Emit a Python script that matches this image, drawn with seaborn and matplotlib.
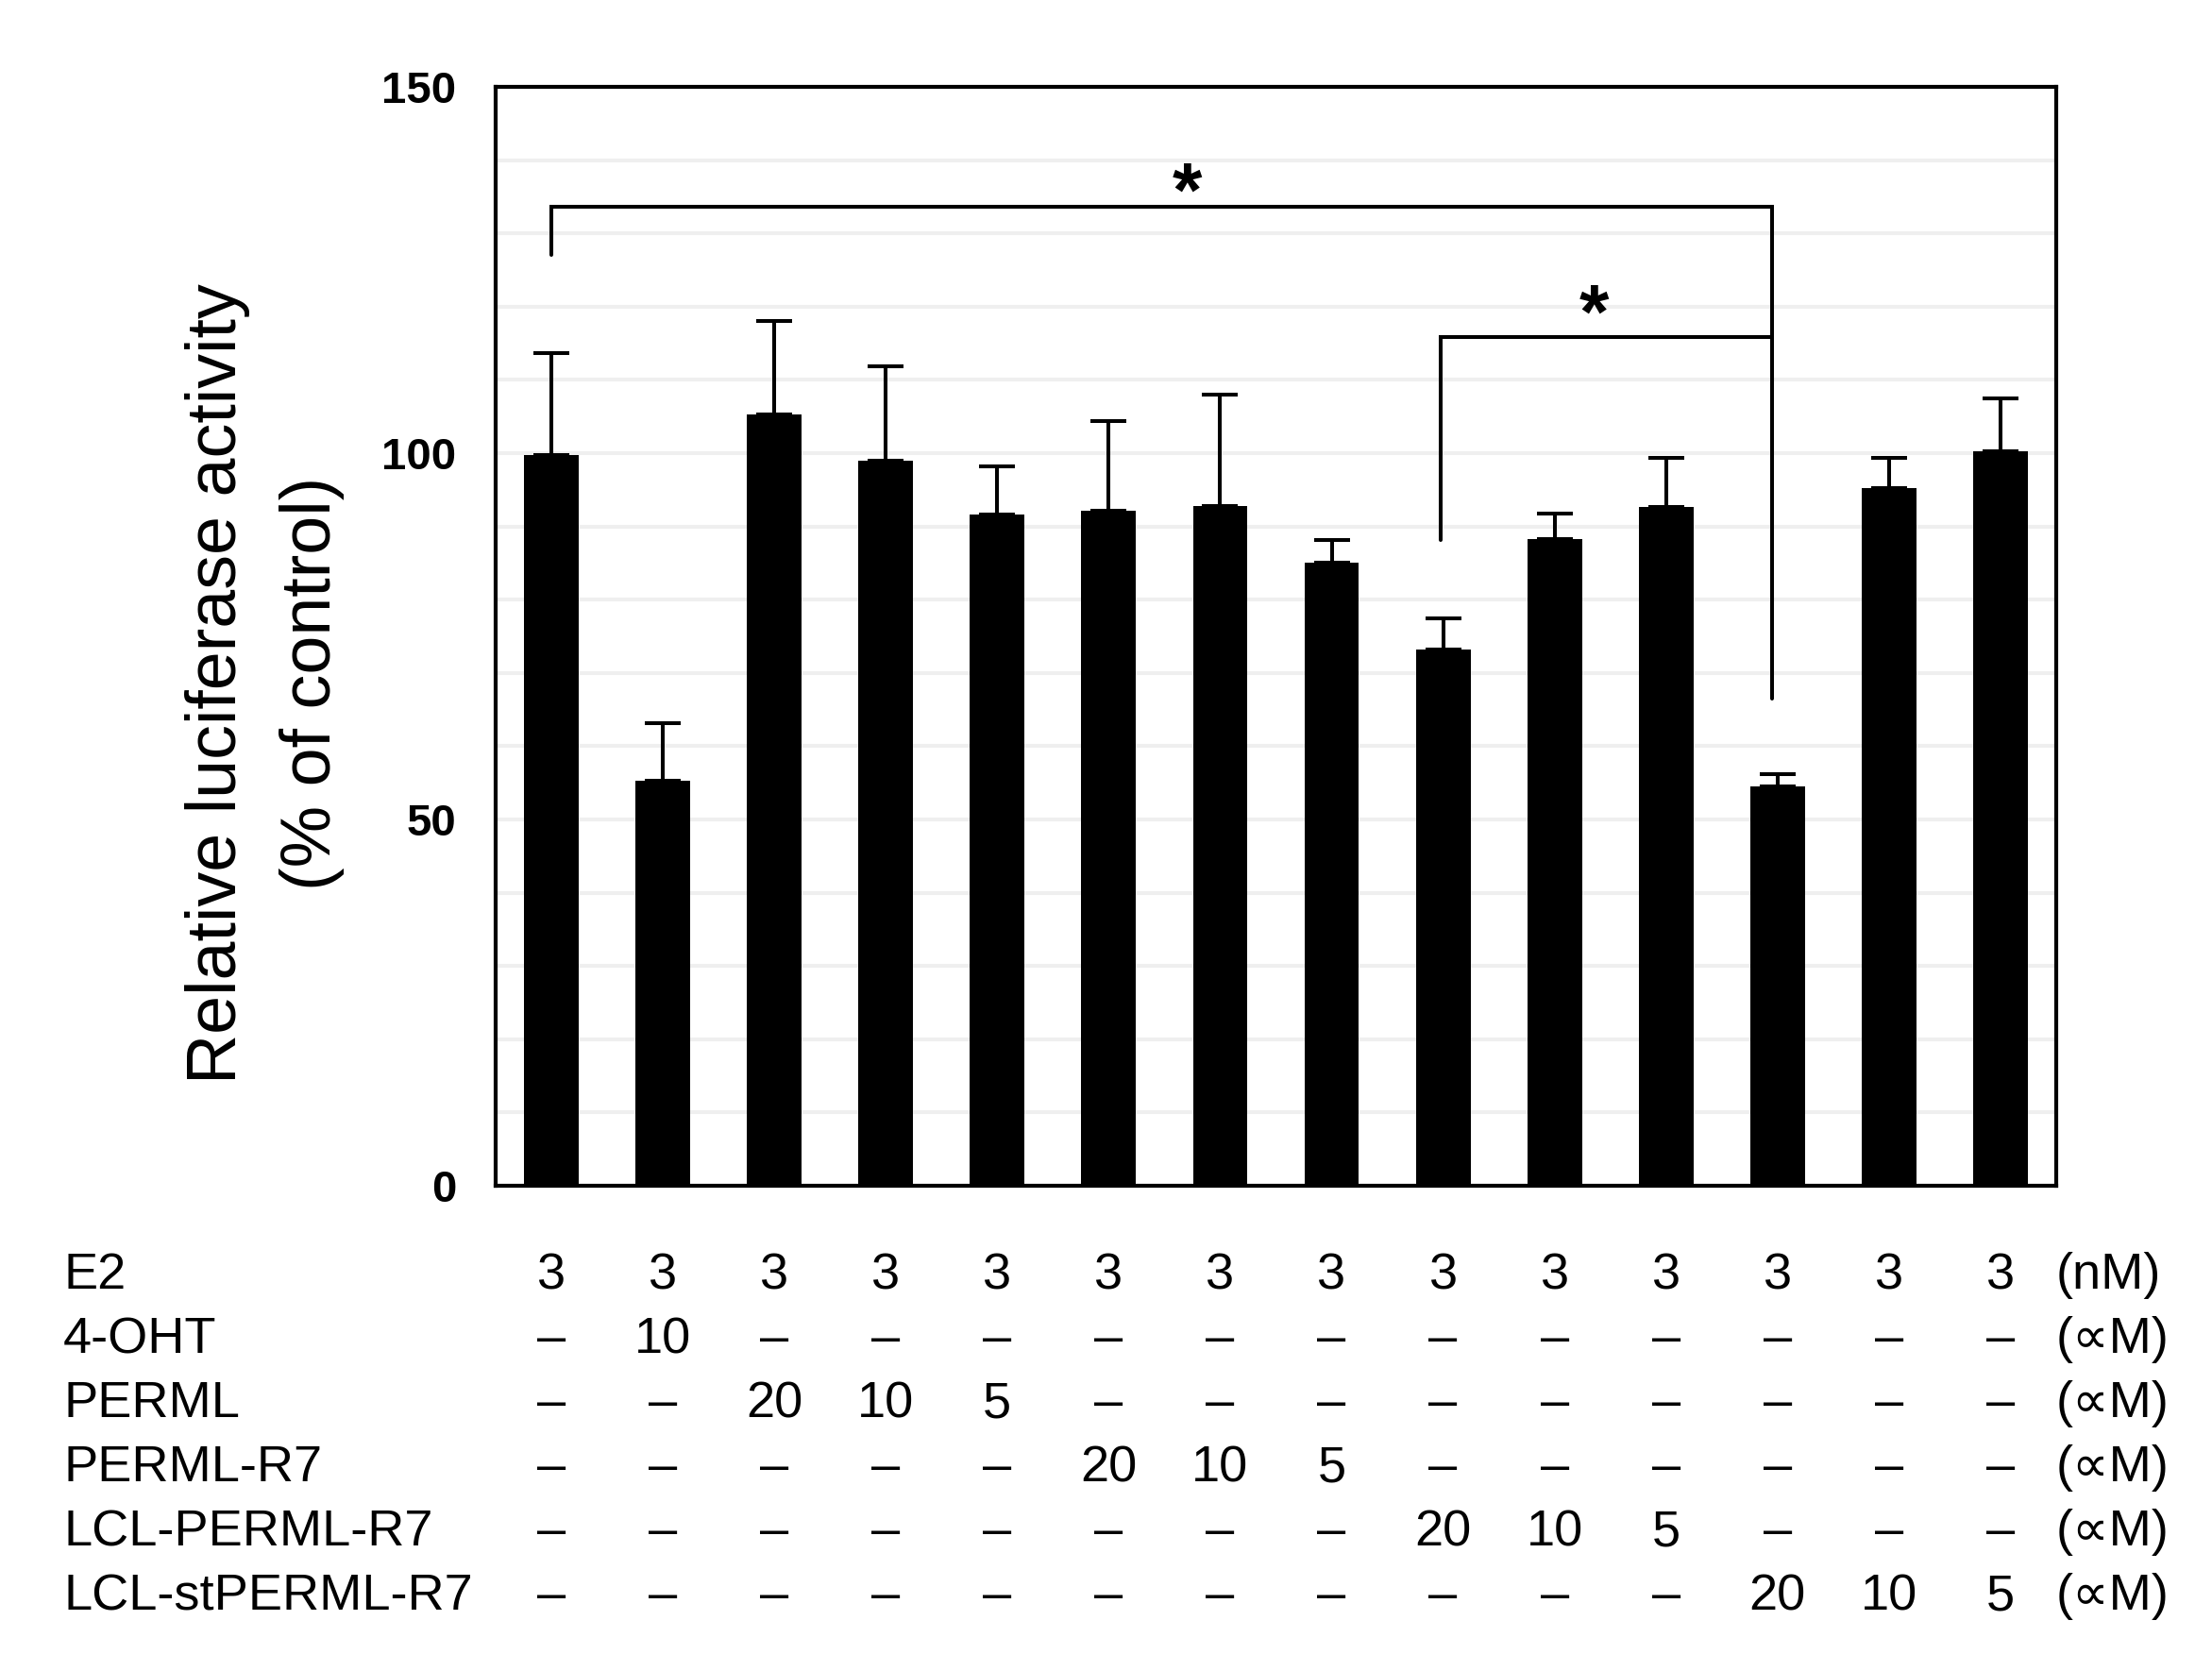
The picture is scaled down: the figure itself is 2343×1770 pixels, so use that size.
import numpy as np
import pandas as pd
import seaborn as sns
import matplotlib.pyplot as plt
from matplotlib.ticker import MultipleLocator

# bar values (% of control), upper error only
conditions = ["E2", "4-OHT 10", "PERML 20", "PERML 10", "PERML 5",
              "PERML-R7 20", "PERML-R7 10", "PERML-R7 5",
              "LCL-PERML-R7 20", "LCL-PERML-R7 10", "LCL-PERML-R7 5",
              "LCL-stPERML-R7 20", "LCL-stPERML-R7 10", "LCL-stPERML-R7 5"]
activity = [99.7, 55.3, 105.3, 99.0, 91.6, 92.2, 92.8, 85.1, 73.2, 88.3, 92.7, 54.5, 95.2, 100.2]
sem = [14.0, 7.9, 12.8, 12.8, 6.6, 12.2, 15.2, 3.0, 4.3, 3.4, 6.6, 1.7, 4.1, 7.3]

# treatment table under the plot
row_names = ["E2", "4-OHT", "PERML", "PERML-R7", "LCL-PERML-R7", "LCL-stPERML-R7"]
row_units = ["(nM)", "(∝M)", "(∝M)", "(∝M)", "(∝M)", "(∝M)"]
e2_dose = ["3", "3", "3", "3", "3", "3", "3", "3", "3", "3", "3", "3", "3", "3"]
oht_dose = ["–", "10", "–", "–", "–", "–", "–", "–", "–", "–", "–", "–", "–", "–"]
perml_dose = ["–", "–", "20", "10", "5", "–", "–", "–", "–", "–", "–", "–", "–", "–"]
perml_r7_dose = ["–", "–", "–", "–", "–", "20", "10", "5", "–", "–", "–", "–", "–", "–"]
lcl_dose = ["–", "–", "–", "–", "–", "–", "–", "–", "20", "10", "5", "–", "–", "–"]
lcl_st_dose = ["–", "–", "–", "–", "–", "–", "–", "–", "–", "–", "–", "20", "10", "5"]
doses = [e2_dose, oht_dose, perml_dose, perml_r7_dose, lcl_dose, lcl_st_dose]

# significance brackets: (x path, y path), star position
bracket_long_x = [0, 0, 10.95, 10.95]
bracket_long_y = [127.1, 133.6, 133.6, 66.5]
bracket_short_x = [7.98, 7.98, 10.95]
bracket_short_y = [88.1, 115.9, 115.9]
star_x = [5.70, 9.35]
star_y = [138.2, 121.6]

sns.set_style("white")
plt.rcParams["font.family"] = ["Liberation Sans", "DejaVu Sans"]
plt.rcParams["text.color"] = "black"
plt.rcParams["ytick.color"] = "black"
plt.rcParams["ytick.labelcolor"] = "black"

W, H = 2343, 1770
fig = plt.figure(figsize=(W / 100, H / 100), dpi=100)
ax = fig.add_axes([525 / W, 1 - 1256 / H, 1653 / W, 1164 / H])

df = pd.DataFrame({"condition": conditions, "activity": activity})
sns.barplot(data=df, x="condition", y="activity", color="black",
            saturation=1, width=0.49, linewidth=0, ax=ax, zorder=2)
ax.errorbar(np.arange(len(activity)), activity,
            yerr=[np.zeros(len(sem)), sem], fmt="none", ecolor="black",
            elinewidth=2.9, capsize=14, capthick=2.9, zorder=3)

ax.set_xlim(-0.5, 13.5)
ax.set_ylim(0, 150)
ax.set_yticks([0, 50, 100, 150])
ax.yaxis.set_minor_locator(MultipleLocator(10))
ax.set_axisbelow(True)
ax.grid(axis="y", which="both", color="#efefef", lw=2.9)
ax.tick_params(axis="y", which="both", length=0, pad=30, labelsize=34,
               labelcolor="black")
for lbl in ax.get_yticklabels():
    lbl.set_fontweight("bold")
ax.set_xticks([])
ax.set_xlabel("")
ax.set_ylabel("")
for s in ax.spines.values():
    s.set_visible(True)
    s.set_linewidth(3)
    s.set_color("black")

# brackets + stars
ax.plot(bracket_long_x, bracket_long_y, color="black", lw=2.9, zorder=4,
        solid_joinstyle="miter")
ax.plot(bracket_short_x, bracket_short_y, color="black", lw=2.9, zorder=4,
        solid_joinstyle="miter")
star_fs = 58
for sx, sy in zip(star_x, star_y):
    ax.annotate("*", xy=(sx, sy), xytext=(0, -0.56 * star_fs),
                textcoords="offset points", ha="center", va="baseline",
                fontsize=star_fs, fontweight="bold", color="black")

# y label, two lines
fig.text(250 / W, 0.591, "Relative luciferase activity", rotation=90,
         rotation_mode="anchor", ha="center", va="baseline", fontsize=53,
         color="black")
fig.text(350 / W, 0.591, "(% of control)", rotation=90,
         rotation_mode="anchor", ha="center", va="baseline", fontsize=53,
         color="black")

# treatment table
trans = ax.get_xaxis_transform()
for i, (name, unit, vals) in enumerate(zip(row_names, row_units, doses)):
    base = 1365 + 68 * i
    yax = (1256 - base) / 1164
    fig.text(67 / W, 1 - base / H, name, ha="left", va="baseline",
             fontsize=39, color="black")
    for j, v in enumerate(vals):
        ax.text(j, yax, v, transform=trans, ha="center", va="baseline",
                fontsize=39, color="black", clip_on=False)
    ax.text(13.5, yax, unit, transform=trans, ha="left", va="baseline",
            fontsize=39, color="black", clip_on=False)

fig.savefig("out.png", dpi=100)
